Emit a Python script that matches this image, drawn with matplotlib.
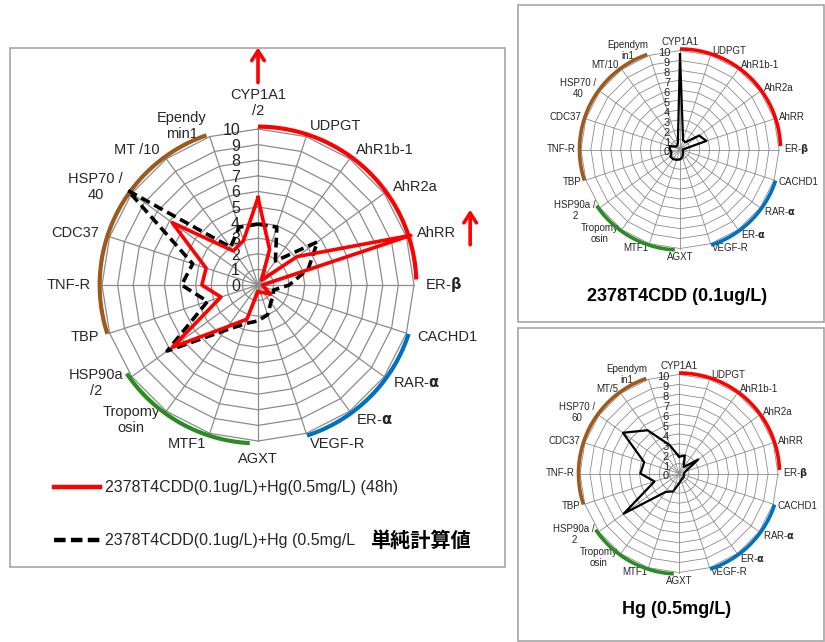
import numpy as np
import matplotlib

matplotlib.use("Agg")
import matplotlib.pyplot as plt
from matplotlib.patches import Rectangle

plt.rcParams["font.family"] = ["Liberation Sans", "DejaVu Sans"]

W, H = 825, 642

# 20 genes, clockwise from the top
MAIN_LABELS = [
    "CYP1A1\n/2", "UDPGT", "AhR1b-1", "AhR2a", "AhRR", "ER-$\\mathbf{\\beta}$",
    "CACHD1", "RAR-$\\mathbf{\\alpha}$", "ER-$\\mathbf{\\alpha}$", "VEGF-R", "AGXT",
    "MTF1", "Tropomy\nosin", "HSP90a\n/2", "TBP", "TNF-R", "CDC37",
    "HSP70 /\n40", "MT /10", "Ependy\nmin1",
]
TCDD_LABELS = [
    "CYP1A1", "UDPGT", "AhR1b-1", "AhR2a", "AhRR", "ER-$\\mathbf{\\beta}$",
    "CACHD1", "RAR-$\\mathbf{\\alpha}$", "ER-$\\mathbf{\\alpha}$", "VEGF-R", "AGXT",
    "MTF1", "Tropomy\nosin", "HSP90a /\n2", "TBP", "TNF-R", "CDC37",
    "HSP70 /\n40", "MT/10", "Ependym\nin1",
]
HG_LABELS = TCDD_LABELS[:17] + ["HSP70 /\n60", "MT/5", "Ependym\nin1"]

# main chart: measured (48h) and simple sum
MIX_48H = [5.6, 2.4, 0.4, 3.1, 10.3, 0.3, 0.4, 1.0, 0.6, 0.5,
           0.4, 2.3, 3.3, 6.8, 2.5, 3.6, 3.5, 6.8, 2.7, 3.0]
MIX_SUM = [3.9, 3.9, 1.9, 4.7, 3.4, 2.0, 1.05, 1.2, 1.4, 2.0,
           2.3, 2.6, 3.6, 7.2, 3.4, 4.9, 4.4, 10.3, 3.0, 3.9]
# single exposures
TCDD_ONLY = [9.6, 1.0, 0.9, 2.4, 2.8, 0.3, 0.3, 0.4, 0.5, 0.8,
             1.0, 1.1, 1.2, 1.2, 0.9, 1.0, 1.1, 0.5, 0.5, 0.7]
HG_ONLY = [1.7, 1.9, 0.8, 2.4, 0.7, 0.5, 0.5, 0.6, 0.6, 0.7,
           1.0, 1.9, 2.3, 6.9, 2.6, 3.9, 3.7, 7.0, 5.4, 3.0]

LEVELS = list(range(0, 11))

# gene-group arcs: colour, start angle, end angle (degrees, clockwise from top)
ARCS = [
    ("#FF0000", 0, 88),
    ("#0070C0", 108, 162),
    ("#2A8C22", 183, 236),
    ("#9C5A1C", 252, 341),
]

LEGEND = [
    "2378T4CDD(0.1ug/L)+Hg(0.5mg/L) (48h)",
    "2378T4CDD(0.1ug/L)+Hg (0.5mg/L",
]

ANG = np.deg2rad(np.arange(20) * 18.0)


def polar_xy(r, ang):
    return np.asarray(r) * np.sin(ang), np.asarray(r) * np.cos(ang)


def add_panel(fig, cx, cy, scale, x_lo, x_hi, y_lo, y_hi):
    ax = fig.add_axes([
        (cx + x_lo * scale) / W,
        1 - (cy - y_lo * scale) / H,
        (x_hi - x_lo) * scale / W,
        (y_hi - y_lo) * scale / H,
    ])
    ax.set_xlim(x_lo, x_hi)
    ax.set_ylim(y_lo, y_hi)
    ax.axis("off")
    return ax


def draw_grid(ax, labels, lab_size, tick_size, grid_lw, arc_lw, arc_r,
              lab_r, top_r, tick_dx, tick_dy):
    closed = np.append(ANG, ANG[0])
    for lv in LEVELS[1:]:
        x, y = polar_xy(np.full(21, lv), closed)
        ax.plot(x, y, color="#8c8c8c", lw=grid_lw, zorder=1, clip_on=False)
    for a in ANG:
        x, y = polar_xy([0, 10], [a, a])
        ax.plot(x, y, color="#8c8c8c", lw=grid_lw, zorder=1, clip_on=False)

    for lv in LEVELS:
        ax.text(-tick_dx, lv - tick_dy, str(lv), ha="right", va="center",
                fontsize=tick_size, color="#262626", zorder=2)

    for a, lab in zip(ANG, labels):
        s = np.sin(a)
        if abs(s) < 0.1:
            r = top_r
            ha = "center"
            va = "bottom" if np.cos(a) > 0 else "top"
        else:
            r = lab_r
            ha = "left" if s > 0 else "right"
            va = "center"
        x, y = polar_xy(r, a)
        ax.text(x, y, lab, ha=ha, va=va, fontsize=lab_size, color="#262626",
                multialignment="center", linespacing=1.15, zorder=2)

    for col, a0, a1 in ARCS:
        t = np.deg2rad(np.linspace(a0, a1, 120))
        x, y = polar_xy(np.full(t.size, arc_r), t)
        ax.plot(x, y, color=col, lw=arc_lw, solid_capstyle="butt",
                zorder=3, clip_on=False)


def plot_series(ax, vals, **kw):
    closed = np.append(ANG, ANG[0])
    x, y = polar_xy(np.append(vals, vals[0]), closed)
    ax.plot(x, y, clip_on=False, **kw)


fig = plt.figure(figsize=(W / 100, H / 100), dpi=100)
fig.patch.set_facecolor("white")

# panel frames
for x0, y0, x1, y1 in [(10, 48, 505, 567), (518, 5, 824, 322), (518, 328, 824, 641)]:
    fig.add_artist(Rectangle((x0 / W, 1 - y1 / H), (x1 - x0) / W, (y1 - y0) / H,
                             transform=fig.transFigure, fill=False,
                             ec="#a6a6a6", lw=1.2))

# main chart
ax = add_panel(fig, 258, 285, 15.6, -16.0, 16.0, -18.0, 15.5)
draw_grid(ax, MAIN_LABELS, 10.5, 11.5, 0.9, 3.0, 10.15, 10.7, 10.7, 1.15, 0.1)
plot_series(ax, MIX_SUM, color="black", lw=2.6, ls=(0, (2.7, 1.4)),
            dash_capstyle="butt", zorder=4)
plot_series(ax, MIX_48H, color="#FF0000", lw=2.6, zorder=5)

# red arrows marking off-scale genes
for x, y0, y1 in [(0.0, 12.8, 15.4), (13.6, 2.4, 5.0)]:
    ax.annotate("", xy=(x, y1), xytext=(x, y0),
                arrowprops=dict(arrowstyle="->,head_width=0.45,head_length=0.7",
                                color="#FF0000", lw=2.6))

# legend
ax.plot([-13.1, -10.1], [-12.95, -12.95], color="#FF0000", lw=3.2, clip_on=False)
ax.text(-9.8, -12.95, LEGEND[0], ha="left", va="center", fontsize=11.5,
        color="#262626")
ax.plot([-13.1, -10.1], [-16.35, -16.35], color="black", lw=3.2,
        ls=(0, (2.6, 1.2)), dash_capstyle="butt", clip_on=False)
ax.text(-9.8, -16.35, LEGEND[1], ha="left", va="center", fontsize=11.5,
        color="#262626")
ax.text(7.2, -16.35, "単純計算値", ha="left", va="center", fontsize=14.5,
        fontweight="bold", family=["Noto Sans CJK JP", "DejaVu Sans"])

# TCDD only
ax1 = add_panel(fig, 680, 149.5, 9.9, -16.0, 14.8, -14.5, 14.5)
draw_grid(ax1, TCDD_LABELS, 7, 8, 0.6, 2.6, 10.15, 10.5, 10.4, 1.0, 0.3)
plot_series(ax1, TCDD_ONLY, color="black", lw=1.6, zorder=5)
fig.text(677 / W, 1 - 296 / H, "2378T4CDD (0.1ug/L)", ha="center",
         va="center", fontsize=13, fontweight="bold")

# Hg only
ax2 = add_panel(fig, 679, 473.5, 9.9, -16.0, 14.8, -14.5, 14.5)
draw_grid(ax2, HG_LABELS, 7, 8, 0.6, 2.6, 10.15, 10.5, 10.4, 1.0, 0.3)
plot_series(ax2, HG_ONLY, color="black", lw=1.6, zorder=5)
fig.text(677 / W, 1 - 609 / H, "Hg (0.5mg/L)", ha="center",
         va="center", fontsize=13, fontweight="bold")

fig.savefig("out.png", dpi=100, facecolor="white")
